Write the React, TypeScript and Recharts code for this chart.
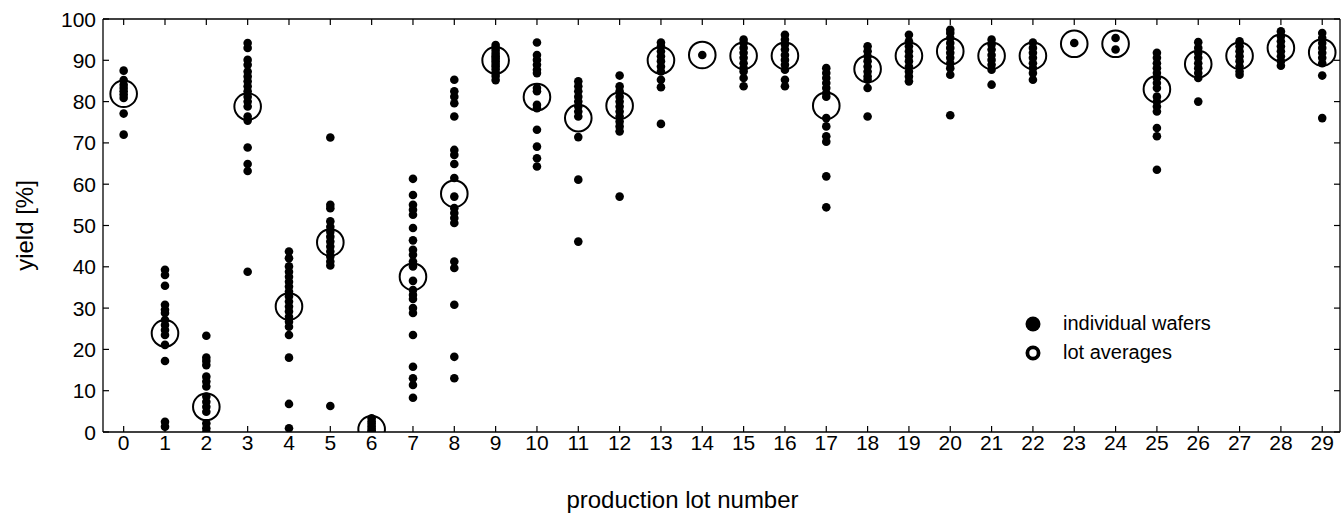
import React from 'react'
import { ScatterChart, Scatter, XAxis, YAxis, Legend, Label } from 'recharts'

const FONT = '"Liberation Sans", Arial, Helvetica, sans-serif'

const lotNumbers = [
  0, 1, 2, 3, 4, 5, 6, 7, 8, 9, 10, 11, 12, 13, 14, 15, 16, 17, 18, 19, 20, 21,
  22, 23, 24, 25, 26, 27, 28, 29,
]
const yieldTicks = [0, 10, 20, 30, 40, 50, 60, 70, 80, 90, 100]

// yield of each wafer, one list per production lot
const waferYields: number[][] = [
  [87.5, 85.2, 84.1, 83.3, 82.5, 81.7, 80.9, 77.1, 72.0],
  [39.3, 38.0, 35.4, 30.8, 29.6, 28.8, 27.1, 25.9, 24.7, 23.5, 21.1, 17.2, 2.5, 1.3],
  [23.3, 18.0, 17.2, 16.2, 13.4, 12.2, 11.0, 8.6, 7.3, 6.1, 4.9, 2.1, 0.9, 0.0],
  [94.2, 93.0, 90.1, 88.9, 87.3, 86.1, 84.9, 83.7, 82.5, 81.2, 80.0, 78.8, 76.4, 75.4, 68.9, 64.9, 63.2, 38.8],
  [43.7, 42.1, 40.1, 38.8, 37.6, 36.4, 35.2, 34.0, 32.8, 31.6, 30.4, 29.2, 27.9, 26.7, 25.5, 23.5, 18.0, 6.8, 0.9],
  [71.3, 55.0, 54.2, 51.0, 49.7, 48.5, 47.3, 46.1, 44.9, 43.7, 42.5, 41.3, 40.3, 6.3],
  [3.3, 2.6, 2.0, 1.4, 0.8, 0.3, 0.0],
  [61.3, 57.4, 55.0, 53.8, 52.6, 49.4, 46.4, 44.1, 42.9, 41.3, 40.1, 36.6, 34.4, 33.2, 32.2, 30.0, 28.8, 23.5, 15.8, 13.0, 11.4, 8.3],
  [85.3, 82.5, 81.2, 79.6, 76.4, 68.3, 67.1, 64.9, 61.5, 57.0, 54.2, 53.0, 51.8, 50.6, 41.3, 39.7, 30.8, 18.2, 13.0],
  [93.7, 93.0, 92.3, 91.6, 91.0, 90.4, 89.8, 89.1, 88.5, 87.8, 87.0, 86.2, 85.2],
  [94.3, 91.3, 90.1, 88.9, 87.7, 86.9, 83.3, 82.5, 79.2, 78.4, 73.2, 69.1, 66.3, 64.3],
  [84.9, 83.7, 82.5, 81.2, 80.0, 78.8, 77.6, 76.4, 71.4, 61.1, 46.1],
  [86.3, 83.7, 82.5, 81.2, 80.0, 78.8, 77.6, 76.4, 75.2, 74.0, 72.8, 57.0],
  [94.3, 93.4, 92.2, 91.0, 89.8, 88.5, 87.3, 85.3, 83.5, 74.6],
  [91.3],
  [95.0, 94.2, 93.0, 91.8, 90.6, 89.3, 88.1, 87.3, 85.7, 83.7],
  [96.2, 95.0, 93.8, 92.6, 91.3, 90.1, 88.9, 87.7, 85.3, 83.7],
  [88.1, 86.9, 85.7, 84.5, 83.3, 82.1, 81.2, 76.0, 74.0, 71.6, 70.3, 61.9, 54.4],
  [93.4, 92.2, 91.0, 89.8, 88.5, 87.3, 86.1, 85.3, 83.3, 76.4],
  [96.2, 94.6, 93.4, 92.2, 91.0, 89.8, 88.5, 87.3, 86.1, 84.9],
  [97.4, 96.6, 95.4, 94.2, 93.0, 91.8, 90.6, 89.3, 88.1, 86.5, 76.7],
  [95.0, 93.8, 92.6, 91.3, 90.1, 88.9, 87.7, 84.1],
  [94.3, 93.0, 91.8, 90.6, 89.3, 88.1, 86.9, 85.3],
  [94.2],
  [95.4, 92.6],
  [91.8, 90.6, 89.3, 88.1, 86.9, 85.7, 84.5, 83.3, 81.2, 80.0, 78.8, 77.6, 73.6, 71.6, 63.5],
  [94.4, 93.0, 91.8, 90.6, 89.3, 88.1, 86.9, 85.7, 80.0],
  [94.6, 93.4, 92.2, 91.0, 89.8, 88.5, 87.3, 86.5],
  [97.0, 95.8, 94.6, 93.4, 92.2, 91.0, 89.8, 88.7],
  [96.6, 95.4, 94.2, 93.0, 91.8, 90.6, 89.3, 86.3, 76.0],
]

const lotAverages = [
  81.9, 23.9, 6.1, 78.8, 30.4, 45.9, 0.65, 37.6, 57.7, 90.0, 81.1, 76.0, 79.0,
  90.0, 91.3, 91.1, 91.1, 79.0, 87.9, 91.1, 92.2, 91.1, 91.1, 94.0, 94.0, 83.0,
  89.1, 91.1, 93.0, 91.9,
]

const wafers = lotNumbers.flatMap((lot) =>
  waferYields[lot].map((y) => ({ lot, yield: y }))
)
const averages = lotNumbers.map((lot) => ({ lot, yield: lotAverages[lot] }))

// chart frame
const W = 1343
const H = 515
const MARGIN = { top: 19, right: 3, bottom: 0, left: 0 }
const Y_AXIS_W = 103
const X_AXIS_H = 83
const PLOT_W = W - MARGIN.left - MARGIN.right - Y_AXIS_W
const PLOT_H = H - MARGIN.top - MARGIN.bottom - X_AXIS_H

const TICK_MARGIN = 4
const TICK_LEN = 6

const WaferDot = (p: any) => <circle cx={p.cx} cy={p.cy} r={4.3} fill="#000" />

const AverageRing = (p: any) => (
  <circle cx={p.cx} cy={p.cy} r={13.3} fill="none" stroke="#000" strokeWidth={2} />
)

// inward ticks on bottom and top edges + label below
const BottomTick = (p: any) => {
  const axisY = p.y - TICK_MARGIN
  const topY = axisY - PLOT_H
  return (
    <g>
      <line x1={p.x} x2={p.x} y1={axisY} y2={axisY - TICK_LEN} stroke="#000" strokeWidth={1.2} />
      <line x1={p.x} x2={p.x} y1={topY} y2={topY + TICK_LEN} stroke="#000" strokeWidth={1.2} />
      <text x={p.x} y={axisY + 18} textAnchor="middle" fontSize={21} fontFamily={FONT} fill="#000">
        {p.payload.value}
      </text>
    </g>
  )
}

// inward ticks on left and right edges + label at left
const LeftTick = (p: any) => {
  const axisX = p.x + TICK_MARGIN
  const rightX = axisX + PLOT_W
  return (
    <g>
      <line x1={axisX} x2={axisX + TICK_LEN} y1={p.y} y2={p.y} stroke="#000" strokeWidth={1.2} />
      <line x1={rightX} x2={rightX - TICK_LEN} y1={p.y} y2={p.y} stroke="#000" strokeWidth={1.2} />
      <text x={axisX - 7} y={p.y} dy="0.36em" textAnchor="end" fontSize={21} fontFamily={FONT} fill="#000">
        {p.payload.value}
      </text>
    </g>
  )
}

const YTitle = () => {
  const cx = 24
  const cy = MARGIN.top + PLOT_H / 2
  return (
    <text x={cx} y={cy} transform={`rotate(-90 ${cx} ${cy})`} textAnchor="middle" dy="0.36em"
      fontSize={24} fontFamily={FONT} fill="#000">
      yield [%]
    </text>
  )
}

const LegendBox = () => (
  <div style={{ fontFamily: FONT, fontSize: 20, color: '#000' }}>
    <div style={{ display: 'flex', alignItems: 'center', height: 29 }}>
      <svg width={22} height={22} style={{ marginRight: 19 }}>
        <circle cx={11} cy={11} r={7.5} fill="#000" />
      </svg>
      individual wafers
    </div>
    <div style={{ display: 'flex', alignItems: 'center', height: 29 }}>
      <svg width={22} height={22} style={{ marginRight: 19 }}>
        <circle cx={11} cy={11} r={5.6} fill="none" stroke="#000" strokeWidth={3.8} />
      </svg>
      lot averages
    </div>
  </div>
)

export default function App() {
  return (
    <div style={{ position: 'absolute', left: 0, top: 0 }}>
      <ScatterChart width={W} height={H} margin={MARGIN} style={{ fontFamily: FONT }}>
        <XAxis
          type="number"
          dataKey="lot"
          domain={[-0.5, 29.43]}
          ticks={lotNumbers}
          interval={0}
          height={X_AXIS_H}
          tickSize={0}
          tickMargin={TICK_MARGIN}
          tickLine={false}
          tick={BottomTick}
          axisLine={{ stroke: '#000', strokeWidth: 1.3 }}
          allowDataOverflow
        >
          <Label value="production lot number" position="insideBottom" offset={7} dx={-39}
            fontSize={24} fill="#000" fontFamily={FONT} />
        </XAxis>
        <XAxis
          xAxisId="top"
          type="number"
          orientation="top"
          mirror
          domain={[-0.5, 29.43]}
          ticks={lotNumbers}
          tick={false}
          tickLine={false}
          axisLine={{ stroke: '#000', strokeWidth: 1.3 }}
          allowDataOverflow
        />
        <YAxis
          type="number"
          dataKey="yield"
          domain={[0, 100]}
          ticks={yieldTicks}
          interval={0}
          width={Y_AXIS_W}
          tickSize={0}
          tickMargin={TICK_MARGIN}
          tickLine={false}
          tick={LeftTick}
          axisLine={{ stroke: '#000', strokeWidth: 1.3 }}
          allowDataOverflow
        >
          <Label content={YTitle} />
        </YAxis>
        <YAxis
          yAxisId="right"
          type="number"
          orientation="right"
          mirror
          domain={[0, 100]}
          ticks={yieldTicks}
          tick={false}
          tickLine={false}
          axisLine={{ stroke: '#000', strokeWidth: 1.3 }}
          allowDataOverflow
        />
        <Legend
          layout="vertical"
          align="center"
          verticalAlign="middle"
          wrapperStyle={{ left: 1022, top: 309, width: 260 }}
          content={LegendBox}
        />
        <Scatter name="individual wafers" data={wafers} shape={WaferDot} isAnimationActive={false} />
        <Scatter name="lot averages" data={averages} shape={AverageRing} isAnimationActive={false} />
      </ScatterChart>
    </div>
  )
}
